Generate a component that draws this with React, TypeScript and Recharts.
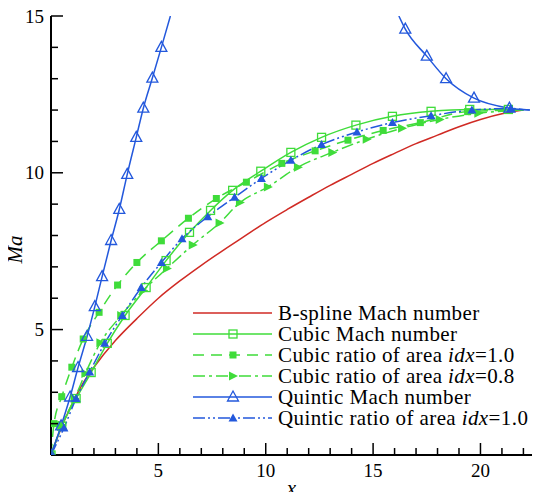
import { LineChart, Line, XAxis, YAxis, Legend, Label } from 'recharts';

const RED = '#d02a24';
const GREEN = '#3fdc3a';
const BLUE = '#2358dc';
const FONT = "'Times New Roman', 'Liberation Serif', 'DejaVu Serif', serif";

// axis ticks (minor every 1, labels on the majors)
const xTicks = [1, 2, 3, 4, 5, 6, 7, 8, 9, 10, 11, 12, 13, 14, 15, 16, 17, 18, 19, 20, 21, 22];
const xLabels = [5, 10, 15, 20];
const yTicks = [2, 3, 4, 5, 6, 7, 8, 9, 10, 11, 12, 13, 14, 15];
const yLabels = [5, 10, 15];

// [x, Ma]
const bSpline: [number, number][] = [
  [0, 1], [0.5, 1.9], [1, 2.65], [1.5, 3.3], [2, 3.8], [3, 4.65], [4, 5.35], [5, 6.0],
  [6, 6.55], [7, 7.05], [8, 7.52], [9, 7.97], [10, 8.42], [11, 8.83], [12, 9.22],
  [13, 9.6], [14, 9.95], [15, 10.3], [16, 10.62], [17, 10.93], [18, 11.2], [19, 11.47],
  [20, 11.7], [21, 11.88], [22, 12],
];
const cubicMach: [number, number][] = [
  [0, 1], [0.5, 1.92], [1.17, 2.8], [1.87, 3.63], [2.62, 4.56], [3.45, 5.45], [4.43, 6.34],
  [5.36, 7.2], [6.45, 8.1], [7.43, 8.8], [8.46, 9.44], [9.77, 10.05], [11.17, 10.65],
  [12.6, 11.13], [14.2, 11.52], [15.9, 11.8], [17.7, 11.96], [19.5, 12.02], [21.3, 12.02], [22, 12],
];
const cubicArea10: [number, number][] = [
  [0, 1], [0.14, 2.0], [0.5, 2.86], [0.97, 3.8], [1.5, 4.7], [2.24, 5.55], [3.1, 6.42],
  [4.0, 7.14], [5.14, 7.83], [6.4, 8.55], [7.7, 9.18], [9.1, 9.7], [10.75, 10.3],
  [12.3, 10.7], [13.83, 11.04], [15.47, 11.35], [17.2, 11.6], [19.4, 11.95], [22, 12],
];
const cubicArea08: [number, number][] = [
  [0, 1], [0.5, 1.95], [1.1, 2.8], [1.6, 3.6], [2.3, 4.58], [3.27, 5.45], [4.3, 6.25],
  [5.4, 6.95], [6.6, 7.7], [7.85, 8.4], [8.8, 9.05], [10.1, 9.55], [11.5, 10.18],
  [13.1, 10.65], [14.7, 11.07], [16.35, 11.42], [18.1, 11.7], [19.9, 11.9], [22, 12],
];
const quinticMachLeft: [number, number][] = [
  [0, 1], [0.47, 1.93], [0.89, 2.85], [1.26, 3.79], [1.68, 4.78], [2.04, 5.73], [2.38, 6.69],
  [2.8, 7.84], [3.18, 8.83], [3.55, 9.95], [3.97, 11.13], [4.3, 12.06], [4.72, 13.02],
  [5.14, 14.0], [5.56, 15],
];
const quinticMachRight: [number, number][] = [
  [16.2, 15], [16.5, 14.58], [17.5, 13.72], [18.4, 13.0], [19.7, 12.38], [21.35, 12.06], [22.3, 12.0],
];
const quinticArea10: [number, number][] = [
  [0, 1], [0.6, 1.86], [1.17, 2.8], [1.8, 3.65], [2.5, 4.56], [3.32, 5.45], [4.2, 6.34],
  [5.14, 7.14], [6.1, 7.9], [7.3, 8.6], [8.55, 9.22], [9.8, 9.82], [11.17, 10.4],
  [12.6, 10.9], [14.25, 11.3], [15.9, 11.6], [17.7, 11.82], [19.6, 12.0], [21.4, 12.05], [22.3, 12.0],
];

const toPts = (arr: [number, number][]) => arr.map(([x, y]) => ({ x, y }));

type Shape = 'openSquare' | 'square' | 'rightTri' | 'openTri' | 'tri';

const drawMarker = (shape: Shape, color: string, cx: number, cy: number, key?: any) => {
  switch (shape) {
    case 'openSquare':
      return <rect key={key} x={cx - 4} y={cy - 4} width={8} height={8} fill="none" stroke={color} strokeWidth={1.3} />;
    case 'square':
      return <rect key={key} x={cx - 3.5} y={cy - 3.5} width={7} height={7} fill={color} />;
    case 'rightTri':
      return <polygon key={key} points={`${cx - 4},${cy - 4.5} ${cx + 5},${cy} ${cx - 4},${cy + 4.5}`} fill={color} />;
    case 'openTri':
      return <polygon key={key} points={`${cx},${cy - 6} ${cx + 5.5},${cy + 4} ${cx - 5.5},${cy + 4}`} fill="none" stroke={color} strokeWidth={1.3} />;
    case 'tri':
      return <polygon key={key} points={`${cx},${cy - 4.5} ${cx + 4.5},${cy + 3.5} ${cx - 4.5},${cy + 3.5}`} fill={color} />;
  }
};

// no symbol at the clipped ends of the curves
const dotFor = (shape: Shape, color: string) => (p: any) => {
  const { cx, cy, index, payload } = p;
  if (cx == null || cy == null || payload.y >= 15 || payload.x >= 22) return <g key={index} />;
  return drawMarker(shape, color, cx, cy, index);
};

const tickStyle = { fontFamily: FONT, fontSize: 19, fill: '#000' };
const legendStyle = { fontFamily: FONT, fontSize: 21, letterSpacing: 0.4, fill: '#000' };
const titleStyle = { fontFamily: FONT, fontSize: 21, fontStyle: 'italic', fill: '#000' };

const XTick = ({ x, y, payload }: any) => {
  const major = xLabels.includes(payload.value);
  return (
    <g>
      <line x1={x} x2={x} y1={y} y2={y - (major ? 12 : 7)} stroke="#000" strokeWidth={1.5} />
      {major && (
        <text x={x} y={y + 22} textAnchor="middle" style={tickStyle}>
          {payload.value}
        </text>
      )}
    </g>
  );
};

const YTick = ({ x, y, payload }: any) => {
  const major = yLabels.includes(payload.value);
  return (
    <g>
      <line x1={x} x2={x + (major ? 12 : 7)} y1={y} y2={y} stroke="#000" strokeWidth={1.5} />
      {major && (
        <text x={x - 7} y={y} dy="0.35em" textAnchor="end" style={tickStyle}>
          {payload.value}
        </text>
      )}
    </g>
  );
};

const legendRows: { pre: string; it?: string; post?: string; color: string; dash?: string; shape?: Shape }[] = [
  { pre: 'B-spline Mach number', color: RED },
  { pre: 'Cubic Mach number', color: GREEN, shape: 'openSquare' },
  { pre: 'Cubic ratio of area ', it: 'idx', post: '=1.0', color: GREEN, dash: '11 7', shape: 'square' },
  { pre: 'Cubic ratio of area ', it: 'idx', post: '=0.8', color: GREEN, dash: '12 4 3 4', shape: 'rightTri' },
  { pre: 'Quintic Mach number', color: BLUE, shape: 'openTri' },
  { pre: 'Quintic ratio of area ', it: 'idx', post: '=1.0', color: BLUE, dash: '12 3 2 3 2 3', shape: 'tri' },
];

const renderLegend = () => (
  <svg width={350} height={130} style={{ display: 'block' }}>
    {legendRows.map((r, i) => {
      const cy = 13 + i * 21;
      return (
        <g key={i}>
          <line x1={3} x2={82} y1={cy} y2={cy} stroke={r.color} strokeWidth={1.5} strokeDasharray={r.dash} />
          {r.shape && drawMarker(r.shape, r.color, 43, cy)}
          <text x={88} y={cy + 6.8} style={legendStyle}>
            {r.pre}
            {r.it && <tspan style={{ fontStyle: 'italic' }}>{r.it}</tspan>}
            {r.post}
          </text>
        </g>
      );
    })}
  </svg>
);

const App = () => {
  return (
    <div style={{ margin: -8, width: 543, height: 500, fontFamily: FONT, background: '#fff' }}>
      <LineChart width={543} height={500} margin={{ top: 16, right: 11, left: 0, bottom: 0 }} style={{ fontFamily: FONT }}>
        <XAxis
          dataKey="x"
          type="number"
          domain={[0, 22.4]}
          ticks={xTicks}
          interval={0}
          allowDataOverflow
          height={45}
          tickSize={0}
          tickMargin={0}
          tick={<XTick />}
          axisLine={{ stroke: '#000', strokeWidth: 2 }}
        >
          <Label
            content={({ viewBox }: any) => (
              <text x={viewBox.x + viewBox.width / 2} y={viewBox.y + 40} textAnchor="middle" style={titleStyle}>
                x
              </text>
            )}
          />
        </XAxis>
        <YAxis
          type="number"
          domain={[1, 15]}
          ticks={yTicks}
          interval={0}
          allowDataOverflow
          width={51}
          tickSize={0}
          tickMargin={0}
          tick={<YTick />}
          axisLine={{ stroke: '#000', strokeWidth: 2 }}
        >
          <Label
            content={({ viewBox }: any) => {
              const lx = viewBox.x + 22;
              const ly = viewBox.y + viewBox.height / 2 + 14;
              return (
                <text x={lx} y={ly} transform={`rotate(-90, ${lx}, ${ly})`} textAnchor="middle" style={titleStyle}>
                  Ma
                </text>
              );
            }}
          />
        </YAxis>
        <Legend
          layout="vertical"
          align="center"
          verticalAlign="middle"
          content={renderLegend}
          wrapperStyle={{ left: 190, top: 300, width: 350, height: 130 }}
        />
        <Line data={toPts(bSpline)} dataKey="y" type="monotone" stroke={RED} strokeWidth={1.5} dot={false} activeDot={false} isAnimationActive={false} />
        <Line data={toPts(cubicArea08)} dataKey="y" type="monotone" stroke={GREEN} strokeWidth={1.5} strokeDasharray="12 4 3 4" dot={dotFor('rightTri', GREEN)} activeDot={false} isAnimationActive={false} />
        <Line data={toPts(cubicArea10)} dataKey="y" type="monotone" stroke={GREEN} strokeWidth={1.5} strokeDasharray="11 7" dot={dotFor('square', GREEN)} activeDot={false} isAnimationActive={false} />
        <Line data={toPts(cubicMach)} dataKey="y" type="monotone" stroke={GREEN} strokeWidth={1.5} dot={dotFor('openSquare', GREEN)} activeDot={false} isAnimationActive={false} />
        <Line data={toPts(quinticMachLeft)} dataKey="y" type="monotone" stroke={BLUE} strokeWidth={1.5} dot={dotFor('openTri', BLUE)} activeDot={false} isAnimationActive={false} />
        <Line data={toPts(quinticMachRight)} dataKey="y" type="monotone" stroke={BLUE} strokeWidth={1.5} dot={dotFor('openTri', BLUE)} activeDot={false} isAnimationActive={false} />
        <Line data={toPts(quinticArea10)} dataKey="y" type="monotone" stroke={BLUE} strokeWidth={1.5} strokeDasharray="12 3 2 3 2 3" dot={dotFor('tri', BLUE)} activeDot={false} isAnimationActive={false} />
      </LineChart>
    </div>
  );
};

export default App;
